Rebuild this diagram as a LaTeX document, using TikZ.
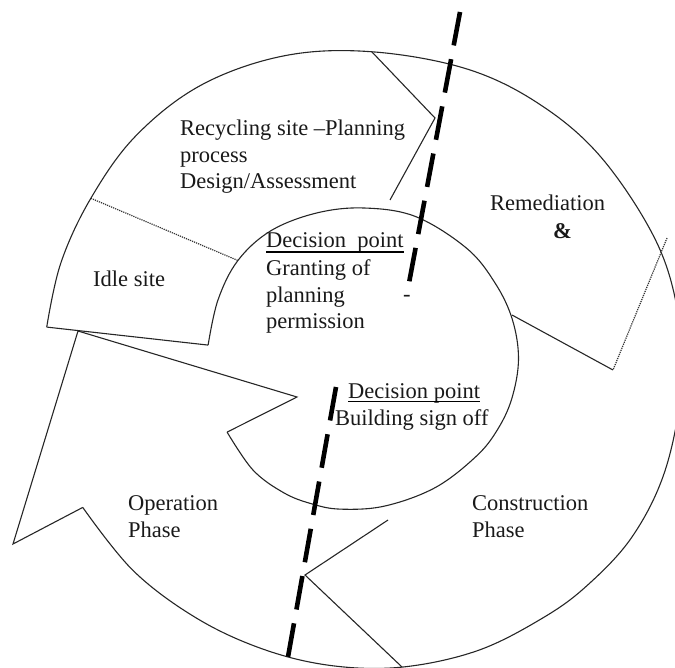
\documentclass[tikz,border=0pt]{standalone}
\usepackage{fontspec}
\setmainfont{Liberation Serif}
\begin{document}
\begin{tikzpicture}[x=1bp,y=-1bp,
  edge/.style={line width=1.1bp, draw=black!85, line join=miter},
  dotedge/.style={line width=1.2bp, draw=black!80, densely dotted},
  decision/.style={line width=4.6bp, draw=black, dash pattern=on 34bp off 14bp},
  lbl/.style={anchor=base west, inner sep=0pt,
    font=\fontsize{22.5bp}{26bp}\selectfont, text=black!90}]
\useasboundingbox (0,0) rectangle (675,668);
\clip (0,0) rectangle (675,668);

% outer rim (angles run clockwise on the page, centre at 360,360)
\begin{scope}[shift={(360,360)}]
  \coordinate (idleBL) at (186:315);
  \coordinate (idleTL) at (211:314);
  \coordinate (headLin) at (152:314);
  \draw[edge] plot[smooth, tension=0.6] coordinates {
    (186:315) (198:314.5) (211:314) (225:317) (240:317.5) (256:313.5)
    (272:308.5) (290:310) (305:312.5) (320:315) (338:319) (352:321.5)
    (365:322.5) (380:324.5) (393:324.5) (405:320) (415:316) (428:313.5)
    (442:310) (455:307) (468:305) (482:305.5) (497:309.5) (512:314)};
\end{scope}

% inner rim (centre at 364,359), open where the arrow head cuts in
\begin{scope}[shift={(364,359)}]
  \coordinate (idleBR) at (-174.9:156.5);
  \coordinate (idleTR) at (-142:160);
  \coordinate (headRin) at (151.9:155.2);
  \draw[edge] plot[smooth, tension=0.6] coordinates {
    (-174.9:156.5) (-158:157.5) (-142:160) (-126:158.5) (-108:153.5)
    (-90:151) (-70:151.5) (-47:151) (-30:151.5) (-15:153.5) (0:154.5)
    (15:153) (28:151) (41:148.5) (61:147) (82:148.5) (99:152)
    (110:154) (121:156) (135:157) (151.9:155.2)};
\end{scope}

% remaining corner points
\coordinate (headTip) at (78,331);
\coordinate (headL) at (13,544);
\coordinate (headR) at (297,397);
\coordinate (recA) at (372,52);
\coordinate (recB) at (435,118);
\coordinate (recC) at (390,200);
\coordinate (remA) at (667,238);
\coordinate (remB) at (613,370);
\coordinate (remC) at (512,315);
\coordinate (conA) at (388,520);
\coordinate (conB) at (305,575);
\coordinate (conC) at (402,667);

% idle site box
\draw[edge] (idleBL) -- (idleBR);
\draw[dotedge] (idleTL) -- (idleTR);

% arrow head of the operation phase
\draw[edge] (headLin) -- (headL) -- (headTip) -- (headR) -- (headRin);

% pointed ends of the segments
\draw[edge] (recA) -- (recB) -- (recC);
\draw[dotedge] (remA) -- (remB);
\draw[edge] (remB) -- (remC);
\draw[edge] (conA) -- (conB) -- (conC);

% decision lines
\coordinate (d1s) at (460,12);
\coordinate (d1e) at (409,283);
\coordinate (d2s) at (336,387);
\coordinate (d2e) at (288,657);
\draw[decision] (d1s) -- (d1e);
\draw[decision] (d2s) -- (d2e);

% labels
\node[lbl] (rec1) at (180,135) {Recycling site –Planning};
\node[lbl] (rec2) at (180,162) {process};
\node[lbl] (rec3) at (180,188) {Design/Assessment};
\node[lbl] (idle) at (93,286) {Idle site};
\node[lbl] (dp1) at (266,247) {Decision\ \ point};
\draw[line width=1.3bp] ([yshift=-5bp]dp1.base west) -- ([yshift=-5bp]dp1.base east);
\node[lbl] (gr1) at (266,275) {Granting of};
\node[lbl] (gr2) at (266,302) {planning};
\node[lbl] (gr3) at (266,328) {permission};
\node[lbl] (hy) at (403,301) {-};
\node[lbl] (rem) at (490,210) {Remediation};
\node[lbl] (amp) at (553,238) {\textbf{\&}};
\node[lbl] (dp2) at (348,398) {Decision point};
\draw[line width=1.3bp] ([yshift=-3.5bp]dp2.base west) -- ([yshift=-3.5bp]dp2.base east);
\node[lbl] (bso) at (335,425) {Building sign off};
\node[lbl] (op1) at (128,510) {Operation};
\node[lbl] (op2) at (128,537) {Phase};
\node[lbl] (con1) at (472,510) {Construction};
\node[lbl] (con2) at (472,537) {Phase};
\end{tikzpicture}
\end{document}
